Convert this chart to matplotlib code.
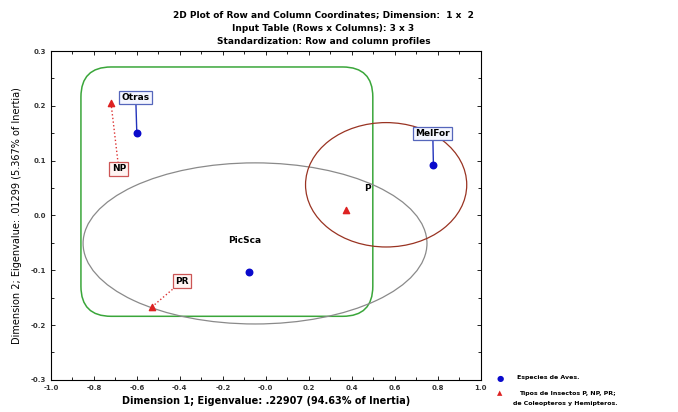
import numpy as np
import matplotlib.pyplot as plt
from matplotlib.patches import Ellipse, FancyBboxPatch
from matplotlib.ticker import MultipleLocator

# row points (bird species)
row_names = ['Otras', 'MelFor', 'PicSca']
row_x = [-0.60, 0.78, -0.08]
row_y = [0.150, 0.092, -0.104]

# column points (insect types)
col_names = ['NP', 'PR', 'P']
col_x = [-0.72, -0.53, 0.375]
col_y = [0.205, -0.167, 0.010]

# label positions
row_lab = [(-0.605, 0.215), (0.777, 0.150), (-0.10, -0.045)]
col_lab = [(-0.684, 0.085), (-0.39, -0.120), (0.475, 0.050)]

xticks = np.round(np.arange(-1.0, 1.01, 0.2), 1)
yticks = np.round(np.arange(-0.3, 0.31, 0.1), 1)

fig = plt.figure(figsize=(6.78, 4.12), dpi=100)
ax = fig.add_axes([0.075, 0.078, 0.634, 0.798])

ax.set_xlim(-1.0, 1.0)
ax.set_ylim(-0.3, 0.3)
ax.set_xticks(xticks)
ax.set_yticks(yticks)
ax.set_xticklabels([f'{v:.1f}' for v in xticks], fontsize=5, fontweight='bold', color='#333333')
ax.set_yticklabels([f'{v:.1f}' for v in yticks], fontsize=5, fontweight='bold', color='#333333')
ax.xaxis.set_minor_locator(MultipleLocator(0.1))
ax.yaxis.set_minor_locator(MultipleLocator(0.05))
ax.tick_params(which='both', direction='in', top=True, right=True, width=0.6)
ax.tick_params(which='major', length=3)
ax.tick_params(which='minor', length=2)
for s in ax.spines.values():
    s.set_linewidth(0.8)

# grouping shapes
green = FancyBboxPatch((-0.86, -0.184), 1.358, 0.455,
                       boxstyle='round,pad=0.0,rounding_size=0.14',
                       mutation_aspect=0.39,
                       fc='none', ec='#3aa63a', lw=1.1)
ax.add_patch(green)
ax.add_patch(Ellipse((-0.05, -0.051), 1.60, 0.294, fc='none', ec='#8a8a8a', lw=0.9))
ax.add_patch(Ellipse((0.56, 0.056), 0.75, 0.227, fc='none', ec='#993322', lw=0.9))

# connectors
for (x, y), (lx, ly), n in zip(zip(row_x, row_y), row_lab, row_names):
    if n != 'PicSca':
        ax.plot([x, lx], [y, ly], color='#2233bb', lw=1.0, zorder=3)
for (x, y), (lx, ly), n in zip(zip(col_x, col_y), col_lab, col_names):
    if n != 'P':
        ax.plot([x, lx], [y, ly], color='#dd3333', lw=1.0, ls=':', zorder=3)

ax.scatter(row_x, row_y, s=22, color='#0a0acc', zorder=5)
ax.scatter(col_x, col_y, s=20, marker='^', color='#dd2222', zorder=5)

for (lx, ly), n in zip(row_lab, row_names):
    if n == 'PicSca':
        ax.text(lx, ly, n, fontsize=6.5, fontweight='bold', ha='center', va='center', zorder=6)
    else:
        ax.text(lx, ly, n, fontsize=6.5, fontweight='bold', ha='center', va='center', zorder=6,
                bbox=dict(boxstyle='square,pad=0.25', fc='#f4f6ff', ec='#5566bb', lw=0.9))
for (lx, ly), n in zip(col_lab, col_names):
    if n == 'P':
        ax.text(lx, ly, n, fontsize=6.5, fontweight='bold', ha='center', va='center', zorder=6)
    else:
        ax.text(lx, ly, n, fontsize=6.5, fontweight='bold', ha='center', va='center', zorder=6,
                bbox=dict(boxstyle='square,pad=0.25', fc='#fff4f2', ec='#cc5555', lw=0.9))

ax.set_xlabel('Dimension 1; Eigenvalue: .22907 (94.63% of Inertia)', fontsize=7, fontweight='bold', labelpad=4)
ax.set_ylabel('Dimension 2; Eigenvalue: .01299 (5.367% of Inertia)', fontsize=7, labelpad=6)

fig.text(0.477, 0.975, '2D Plot of Row and Column Coordinates; Dimension:  1 x  2\n'
         'Input Table (Rows x Columns): 3 x 3\nStandardization: Row and column profiles',
         ha='center', va='top', fontsize=6.5, fontweight='bold', linespacing=1.65)

# legend outside
fig.text(0.737, 1 - 378 / 412, '\u25CF', color='#0a0acc', fontsize=6, ha='center', va='center')
fig.text(0.737, 1 - 393 / 412, '\u25B2', color='#dd2222', fontsize=5, ha='center', va='center')
fig.text(0.762, 1 - 378 / 412, 'Especies de Aves.', fontsize=4.5, fontweight='bold', va='center')
fig.text(0.765, 1 - 393 / 412, 'Tipos de Insectos P, NP, PR;', fontsize=4.5, fontweight='bold', va='center')
fig.text(0.757, 1 - 404 / 412, 'de Coleopteros y Hemipteros.', fontsize=4.5, fontweight='bold', va='center')

fig.savefig('out.png', dpi=100)
